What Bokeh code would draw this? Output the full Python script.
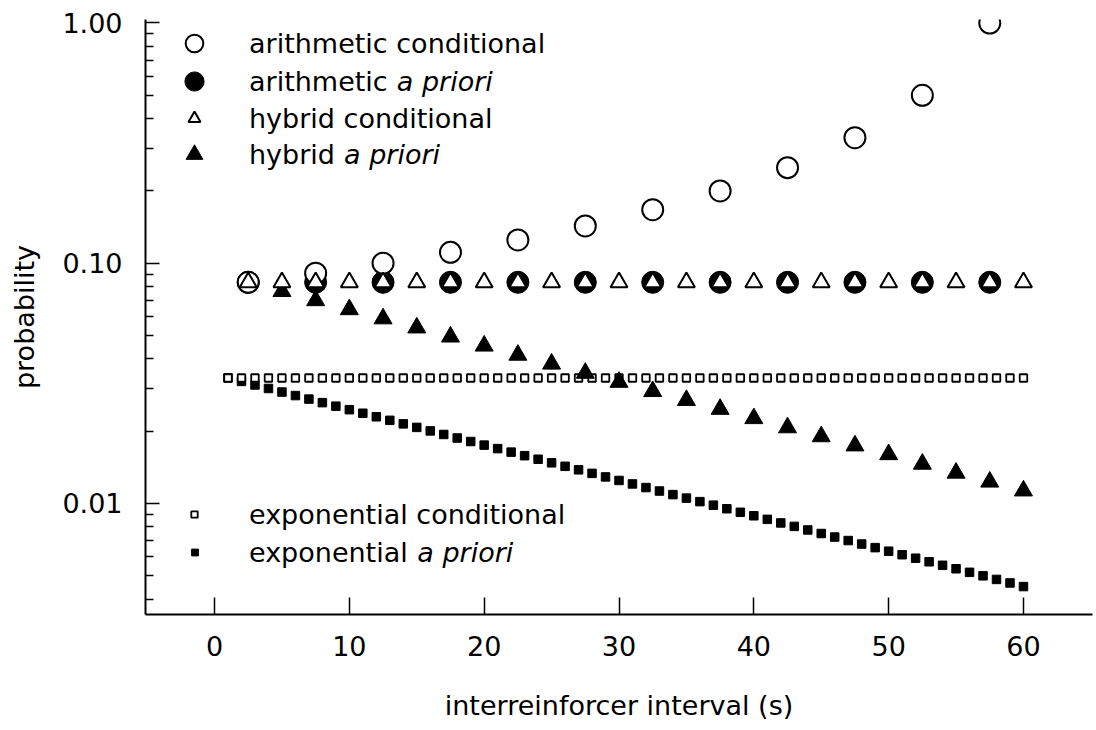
from bokeh.plotting import figure
from bokeh.models import Range1d, FixedTicker, PrintfTickFormatter, Legend, LegendItem, Label
from bokeh.embed import file_html
from bokeh.resources import INLINE

# ---------------- data ----------------
arith_x = [2.5, 7.5, 12.5, 17.5, 22.5, 27.5, 32.5, 37.5, 42.5, 47.5, 52.5, 57.5]
arith_conditional = [0.0833, 0.0909, 0.100, 0.111, 0.125, 0.143, 0.167, 0.200, 0.250, 0.333, 0.500, 1.000]
arith_apriori = [0.0833, 0.0833, 0.0833, 0.0833, 0.0833, 0.0833, 0.0833, 0.0833, 0.0833, 0.0833, 0.0833, 0.0833]

hybrid_x = [2.5, 5.0, 7.5, 10.0, 12.5, 15.0, 17.5, 20.0, 22.5, 25.0, 27.5, 30.0,
            32.5, 35.0, 37.5, 40.0, 42.5, 45.0, 47.5, 50.0, 52.5, 55.0, 57.5, 60.0]
hybrid_conditional = [0.0833, 0.0833, 0.0833, 0.0833, 0.0833, 0.0833, 0.0833, 0.0833,
                      0.0833, 0.0833, 0.0833, 0.0833, 0.0833, 0.0833, 0.0833, 0.0833,
                      0.0833, 0.0833, 0.0833, 0.0833, 0.0833, 0.0833, 0.0833, 0.0833]
hybrid_apriori = [0.0833, 0.0764, 0.0700, 0.0642, 0.0588, 0.0539, 0.0494, 0.0453,
                  0.0415, 0.0381, 0.0349, 0.0320, 0.0293, 0.0269, 0.0247, 0.0226,
                  0.0207, 0.0190, 0.0174, 0.0160, 0.0146, 0.0134, 0.0123, 0.0113]

expo_x = [1, 2, 3, 4, 5, 6, 7, 8, 9, 10, 11, 12, 13, 14, 15, 16, 17, 18, 19, 20,
          21, 22, 23, 24, 25, 26, 27, 28, 29, 30, 31, 32, 33, 34, 35, 36, 37, 38, 39, 40,
          41, 42, 43, 44, 45, 46, 47, 48, 49, 50, 51, 52, 53, 54, 55, 56, 57, 58, 59, 60]
expo_conditional = [0.0333, 0.0333, 0.0333, 0.0333, 0.0333, 0.0333, 0.0333, 0.0333, 0.0333, 0.0333,
                    0.0333, 0.0333, 0.0333, 0.0333, 0.0333, 0.0333, 0.0333, 0.0333, 0.0333, 0.0333,
                    0.0333, 0.0333, 0.0333, 0.0333, 0.0333, 0.0333, 0.0333, 0.0333, 0.0333, 0.0333,
                    0.0333, 0.0333, 0.0333, 0.0333, 0.0333, 0.0333, 0.0333, 0.0333, 0.0333, 0.0333,
                    0.0333, 0.0333, 0.0333, 0.0333, 0.0333, 0.0333, 0.0333, 0.0333, 0.0333, 0.0333,
                    0.0333, 0.0333, 0.0333, 0.0333, 0.0333, 0.0333, 0.0333, 0.0333, 0.0333, 0.0333]
expo_apriori = [0.03333, 0.03222, 0.03115, 0.03011, 0.02910, 0.02813, 0.02720, 0.02629, 0.02541, 0.02457,
                0.02375, 0.02296, 0.02219, 0.02145, 0.02074, 0.02005, 0.01938, 0.01873, 0.01811, 0.01750,
                0.01692, 0.01636, 0.01581, 0.01528, 0.01477, 0.01428, 0.01381, 0.01335, 0.01290, 0.01247,
                0.01206, 0.01165, 0.01127, 0.01089, 0.01053, 0.01018, 0.00984, 0.00951, 0.00919, 0.00889,
                0.00859, 0.00830, 0.00803, 0.00776, 0.00750, 0.00725, 0.00701, 0.00678, 0.00655, 0.00633,
                0.00612, 0.00592, 0.00572, 0.00553, 0.00535, 0.00517, 0.00500, 0.00483, 0.00467, 0.00451]

x_ticks = [0, 10, 20, 30, 40, 50, 60]
y_ticks = [0.01, 0.1, 1.0]
y_minor_ticks = [0.004, 0.005, 0.006, 0.007, 0.008, 0.009,
                 0.02, 0.03, 0.04, 0.05, 0.06, 0.07, 0.08, 0.09,
                 0.2, 0.3, 0.4, 0.5, 0.6, 0.7, 0.8, 0.9]

x_title = "interreinforcer interval (s)"
y_title = "probability"

FONT = "DejaVu Sans"
FS = "27px"

# ---------------- figure ----------------
p = figure(width=1094, height=730,
           x_range=Range1d(-5.12, 65.12), y_range=Range1d(0.003451, 1.0341),
           y_axis_type="log", output_backend="svg", toolbar_location=None,
           min_border_left=145, min_border_right=2, min_border_top=19, min_border_bottom=116)
p.outline_line_color = None
p.xgrid.visible = False
p.ygrid.visible = False
p.background_fill_color = "white"
p.border_fill_color = "white"

xa = p.xaxis[0]
xa.ticker = FixedTicker(ticks=x_ticks, minor_ticks=[])
xa.axis_label = x_title
xa.axis_line_width = 2
xa.major_tick_in = 17
xa.major_tick_out = 0
xa.major_tick_line_width = 1.5
xa.minor_tick_in = 0
xa.minor_tick_out = 0
xa.major_label_standoff = 21
xa.major_label_text_font = FONT
xa.major_label_text_font_size = FS
xa.major_label_text_color = "black"
xa.axis_label_text_font = FONT
xa.axis_label_text_font_size = FS
xa.axis_label_text_font_style = "normal"
xa.axis_label_text_color = "black"
xa.axis_label_standoff = 31

ya = p.yaxis[0]
ya.ticker = FixedTicker(ticks=y_ticks, minor_ticks=y_minor_ticks)
ya.formatter = PrintfTickFormatter(format="%.2f")
ya.axis_label = y_title
ya.axis_line_width = 2
ya.major_tick_in = 14
ya.major_tick_out = 0
ya.major_tick_line_width = 1.5
ya.minor_tick_in = 8
ya.minor_tick_out = 0
ya.minor_tick_line_width = 1.5
ya.major_label_standoff = 23
ya.major_label_text_font = FONT
ya.major_label_text_font_size = FS
ya.major_label_text_color = "black"
ya.axis_label_text_font = FONT
ya.axis_label_text_font_size = FS
ya.axis_label_text_font_style = "normal"
ya.axis_label_text_color = "black"
ya.axis_label_standoff = 19

# ---------------- marks ----------------
r_ef = p.scatter(expo_x, expo_apriori, marker="square", size=8.5,
                 fill_color="black", line_color="black", line_width=1)
r_eo = p.scatter(expo_x, expo_conditional, marker="square", size=7.5,
                 fill_color="white", line_color="black", line_width=1.8)
r_af = p.scatter(arith_x, arith_apriori, marker="circle", size=22,
                 fill_color="black", line_color="black", line_width=1)
r_hf = p.scatter(hybrid_x, hybrid_apriori, marker="triangle", size=18,
                 fill_color="black", line_color="black", line_width=1)
r_ao = p.scatter(arith_x, arith_conditional, marker="circle", size=21,
                 fill_color="white", line_color="black", line_width=2)
r_ho = p.scatter(hybrid_x, hybrid_conditional, marker="triangle", size=17,
                 fill_color="white", line_color="black", line_width=2)

# ---------------- legends ----------------
def add_legend(renderer, text, gw, h, lx, vy, standoff):
    leg = Legend(items=[LegendItem(label=text, renderers=[renderer])],
                 location=(lx, vy), glyph_width=gw, glyph_height=h, label_height=h,
                 label_standoff=standoff, padding=0, spacing=0, margin=0,
                 border_line_color=None, background_fill_alpha=0,
                 label_text_font=FONT, label_text_font_size=FS, label_text_color="black")
    p.add_layout(leg)

add_legend(r_ao, "arithmetic conditional", 44, 44, 27, 549, 33)
add_legend(r_af, "arithmetic", 48, 48, 25, 509, 31)
add_legend(r_ho, "hybrid conditional", 30, 40, 34, 476, 40)
add_legend(r_hf, "hybrid", 42, 42, 28, 439, 34)
add_legend(r_eo, "exponential conditional", 16, 40, 41, 80, 47)
add_legend(r_ef, "exponential", 17, 40, 41, 42, 46)

def add_italic(x, y, text):
    p.add_layout(Label(x=x, y=y, x_units="screen", y_units="screen", text=text,
                       text_font=FONT, text_font_size=FS, text_font_style="italic",
                       text_baseline="middle", text_align="left", text_color="black"))

add_italic(251.3, 533, "a priori")
add_italic(198.6, 460, "a priori")
add_italic(271.8, 62, "a priori")

open("out.html", "w").write(file_html(p, INLINE))
